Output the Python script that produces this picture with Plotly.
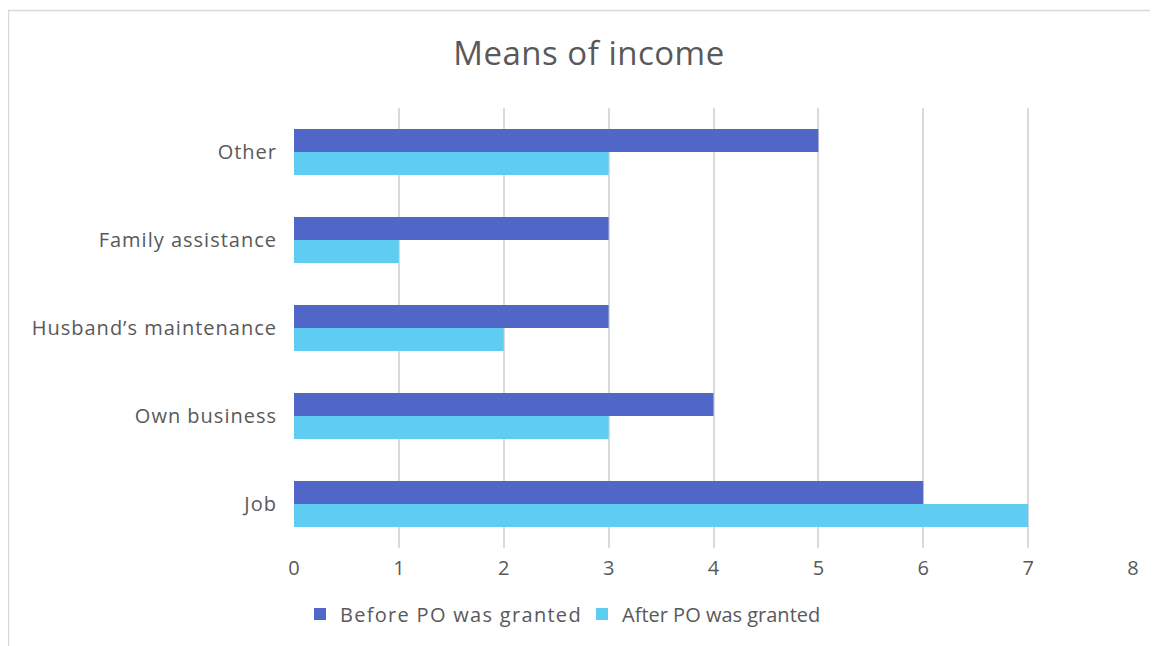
import plotly.graph_objects as go

categories = ["Job", "Own business", "Husband’s maintenance", "Family assistance", "Other"]
before = [6, 4, 3, 3, 5]
after = [7, 3, 2, 1, 3]
series_names = ["Before PO was granted", "After PO was granted"]
x_ticks = [0, 1, 2, 3, 4, 5, 6, 7, 8]

FONT = "Open Sans, Lato, sans-serif"
GREY = "#595959"

OFF = 8  # browser body margin
W, H = 1158 - OFF, 646 - OFF
L, R, T, B = 294 - OFF, 1133 - OFF, 108 - OFF, 548 - OFF
pw, ph = R - L, B - T

def px_x(p):
    return (p - OFF - L) / pw

def px_y(p):
    return (B - (p - OFF)) / ph

fig = go.Figure()
fig.add_trace(go.Bar(y=categories, x=after, name=series_names[1], orientation="h",
                     marker=dict(color="#5FCDF2", line=dict(width=0)), legend="legend2"))
fig.add_trace(go.Bar(y=categories, x=before, name=series_names[0], orientation="h",
                     marker=dict(color="#5067C8", line=dict(width=0)), legend="legend"))

leg_common = dict(orientation="h", xref="paper", xanchor="left", yanchor="middle",
                  y=px_y(614), font=dict(size=20, color=GREY, family=FONT),
                  bgcolor="rgba(0,0,0,0)", itemwidth=30)

fig.update_layout(
    width=W, height=H,
    margin=dict(l=L, r=W - R, t=T, b=H - B, autoexpand=False),
    paper_bgcolor="white", plot_bgcolor="white",
    barmode="group", bargap=0.477, bargroupgap=0,
    font=dict(family=FONT, color=GREY, size=20),
    title=dict(text="Means of income", x=px_x(589), xref="paper",
               xanchor="center", y=1 - (53 - OFF) / H, yanchor="middle",
               font=dict(size=33, color=GREY, family=FONT)),
    xaxis=dict(range=[0, 8], tickvals=x_ticks, showgrid=True, gridcolor="#DADADA", gridwidth=1.5,
               zeroline=False, showline=False, ticks="", tickfont=dict(size=20, color=GREY),
               ticklabelstandoff=6, fixedrange=True),
    yaxis=dict(showgrid=False, zeroline=False, showline=False, ticks="",
               tickfont=dict(size=20, color=GREY), ticklabelstandoff=16),
    legend=dict(x=px_x(300), **leg_common),
    legend2=dict(x=px_x(582), **leg_common),
    showlegend=True,
    shapes=[dict(type="rect", xref="paper", yref="paper",
                 x0=px_x(8.5), x1=px_x(1175), y0=px_y(660), y1=px_y(10.5),
                 line=dict(color="#D9D9D9", width=1.5), layer="below")],
)

post = """
var gd = document.querySelector('.plotly-graph-div');
function spacing(){
  gd.querySelectorAll('.legendtext').forEach(function(e){
    e.style.letterSpacing = (e.textContent.indexOf('After') === 0) ? '2px' : '1.3px';
  });
  gd.querySelectorAll('.scrollbox').forEach(function(e){e.removeAttribute('clip-path');});
  gd.querySelectorAll('.ytick text').forEach(function(e){e.style.letterSpacing='1px';});
  gd.querySelectorAll('.gtitle').forEach(function(e){e.style.letterSpacing='0.5px';});
}
spacing();
gd.on('plotly_afterplot', spacing);
"""

fig.write_html("out.html", post_script=post)
